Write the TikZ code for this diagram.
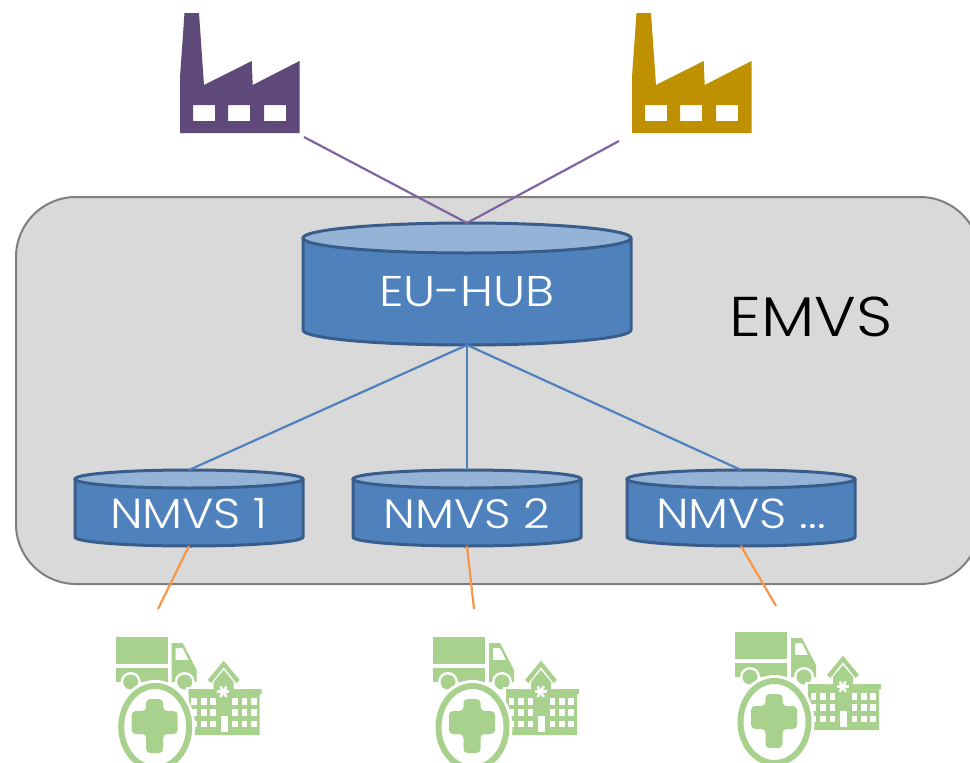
\documentclass[tikz,border=0pt]{standalone}
\usepackage{fontspec}
\setmainfont{Poppins}[UprightFont=* Light,FakeStretch=1.13]
\definecolor{panelc}{HTML}{D9D9D9}
\definecolor{panelb}{HTML}{7F7F7F}
\definecolor{cylf}{HTML}{4F81BD}
\definecolor{cylt}{HTML}{95B3D7}
\definecolor{cyld}{HTML}{385D8A}
\definecolor{purp}{HTML}{5F497A}
\definecolor{purl}{HTML}{8064A2}
\definecolor{gold}{HTML}{BF9000}
\definecolor{orng}{HTML}{F79646}
\definecolor{grn}{HTML}{A9D18E}
\tikzset{
 anchorbox/.style={inner sep=0pt,outer sep=0pt,rectangle},
 purlink/.style={draw=purl,line width=2.2pt},
 bluelink/.style={draw=cylf,line width=2.2pt},
 orlink/.style={draw=orng,line width=2.2pt},
 cylline/.style={draw=cyld,line width=3pt},
 cyltext/.style={anchorbox,text=white},
}
% name, cx, top, bottom, rx, ry, font size, text, text y
\newcommand{\cylnode}[9]{%
 \fill[cylf] (#2-#5,#3+#6) -- (#2-#5,#4-#6) arc[start angle=180,end angle=360,x radius=#5,y radius=-#6] -- (#2+#5,#3+#6) -- cycle;
 \draw[cylline] (#2-#5,#3+#6) -- (#2-#5,#4-#6) arc[start angle=180,end angle=360,x radius=#5,y radius=-#6] -- (#2+#5,#3+#6);
 \draw[cylline,fill=cylt] (#2,#3+#6) ellipse[x radius=#5,y radius=#6];
 \node[anchorbox,minimum width=2*#5 pt,minimum height=#4 pt-#3 pt] (#1) at (#2,#3/2+#4/2) {};
 \node[cyltext,font=\fontsize{#7}{#7}\selectfont] (#1t) at (#2,#9) {#8};
}
\newcommand{\factory}[4]{% name, x0, y0, colour
 \begin{scope}[shift={(#2,#3)}]
 \fill[#4,even odd rule] (4.5,0) -- (19,0) -- (24,72) -- (71.7,48) -- (72.7,72) -- (119.5,48) -- (119.5,120) -- (0,120) -- (0,64) -- cycle
   (13,92) rectangle (35,108) (48,92) rectangle (70,108) (84,92) rectangle (106,108);
 \node[anchorbox,minimum width=120pt,minimum height=120pt] (#1) at (60,60) {};
 \end{scope}}
\newcommand{\care}[3]{% name, x0, y0 : origin = top-left of truck
 \begin{scope}[shift={(#2,#3)}]
 % truck
 \fill[grn] (0,0) rectangle (52,26.5);
 \fill[grn] (0,31) rectangle (52,45);
 \fill[grn,even odd rule] (56,6) -- (67,6) -- (81,33) -- (81,45) -- (56,45) -- cycle
    (60,11) -- (67,11) -- (73,23) -- (60,23) -- cycle;
 \fill[white] (15,45) circle[radius=10];
 \fill[grn] (15,45) circle[radius=7.5];
 \fill[white] (69,45) circle[radius=10];
 \fill[grn] (69,45) circle[radius=7.5];
 % building
 \fill[white] (70,50) rectangle (148,60);
 \fill[grn] (73,52) -- (146,52) -- (146,57) -- (144,57) -- (144,98) -- (73,98) -- cycle;
 \fill[white] (108,25) -- (128,45) -- (128,52) -- (88,52) -- (88,45) -- cycle;
 \fill[grn] (108,23.7) -- (124,43) -- (120.5,46) -- (108,30) -- (95.5,46) -- (92,43) -- cycle;
 \fill[grn] (108,33) -- (118,45) -- (118,53) -- (98,53) -- (98,45) -- cycle;
 \foreach \yy in {61.3,72.3,83.7}{
   \foreach \xx in {75.7,85.3,94.7,116.7,126,135.3}{\fill[white] (\xx,\yy) rectangle ++(5.5,6.5);}}
 \fill[white] (105,79) rectangle ++(7.3,15.6);
 \foreach \aa in {0,60,120}{\draw[white,line width=2.6pt] (107.7,54.7) ++(\aa:6) -- ++(\aa+180:12);}
 % circle
 \fill[white] (39.5,90) ellipse[x radius=40,y radius=47];
 \draw[grn,line width=6pt] (39.5,90) ellipse[x radius=34,y radius=41];
 \fill[grn,rounded corners=4pt] (30.5,62) -- (47.5,62) -- (47.5,74) -- (62,74) -- (62,97) -- (47.5,97) -- (47.5,116) -- (30.5,116) -- (30.5,97) -- (16,97) -- (16,74) -- (30.5,74) -- cycle;
 \node[anchorbox,minimum width=146pt,minimum height=130pt] (#1) at (73,65) {};
 \end{scope}}
\begin{document}
\begin{tikzpicture}[x=1pt,y=-1pt]
\useasboundingbox (0,0) rectangle (970,763);
\clip (0,0) rectangle (970,763);
\fill[white] (0,0) rectangle (970,763);
\factory{fa}{180}{13}{purp}
\factory{fb}{632}{13}{gold}
\draw[draw=panelb,fill=panelc,line width=2pt,rounded corners=60pt] (16,197) rectangle (980,584);
\node[anchorbox,text=black,font=\fontsize{56}{56}\selectfont] (emvs) at (811,317) {EMVS};
\cylnode{hub}{467}{223}{345}{164}{15}{43}{EU-HUB}{292}
\cylnode{n1}{189}{470}{546}{114}{9}{42}{NMVS 1}{514}
\cylnode{n2}{467}{470}{546}{114}{9}{41}{NMVS 2}{514}
\cylnode{n3}{741}{470}{546}{114}{9}{42}{NMVS ...}{514}
\coordinate (fae) at (304,137);
\coordinate (fbe) at (619,141);
\draw[purlink] (fae) -- (hub.north) -- (fbe);
\draw[bluelink] (hub.south) -- (n1.north);
\draw[bluelink] (hub.south) -- (n2.north);
\draw[bluelink] (hub.south) -- (n3.north);
\care{c1}{115.7}{637}
\care{c2}{433}{637}
\care{c3}{735}{632}
\coordinate (e1) at (158,609);
\coordinate (e2) at (474,609);
\coordinate (e3) at (776,606);
\draw[orlink] (n1.south) -- (e1);
\draw[orlink] (n2.south) -- (e2);
\draw[orlink] (n3.south) -- (e3);
\end{tikzpicture}
\end{document}
